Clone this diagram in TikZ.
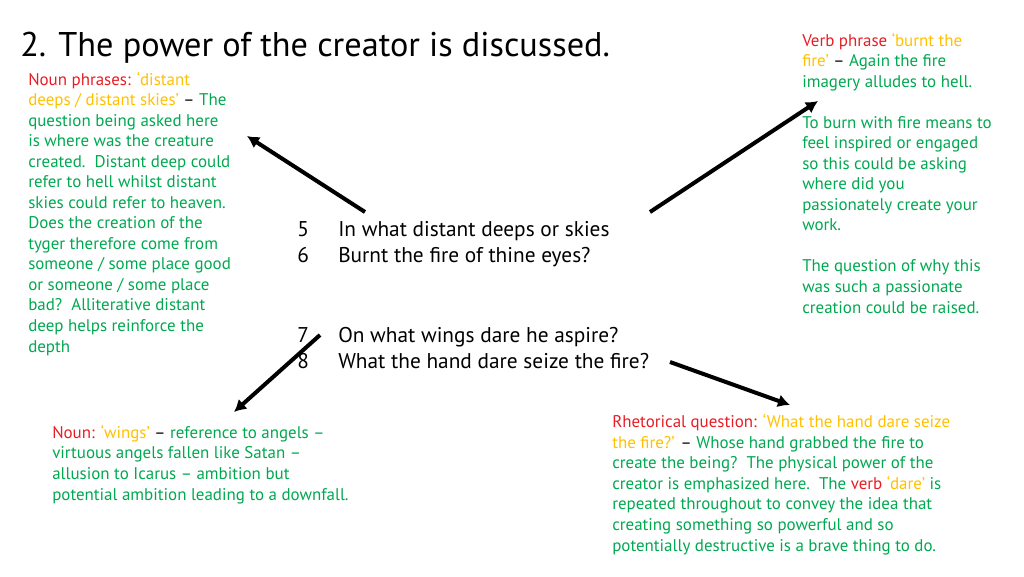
\documentclass[tikz,border=0pt]{standalone}
\usepackage{fontspec}
\setmainfont{PT Sans}
\usetikzlibrary{arrows.meta,positioning}
\definecolor{notered}{RGB}{232,28,36}
\definecolor{quoteyellow}{RGB}{255,192,0}
\definecolor{notegreen}{RGB}{0,168,80}
\newcommand{\termtxt}[1]{\textcolor{notered}{#1}}
\newcommand{\quotetxt}[1]{\textcolor{quoteyellow}{#1}}
\newcommand{\dashtxt}{\textcolor{black}{–}}

\begin{document}
\begin{tikzpicture}[x=0.75pt,y=-0.75pt,>=Latex,
  note/.style={anchor=base west,align=left,inner sep=0pt,text=notegreen,font=\fontsize{12.7}{15.4}\selectfont},
  poem/.style={anchor=base west,align=left,inner sep=0pt,font=\fontsize{16}{19.2}\selectfont},
  pointer/.style={->,line width=3pt,>={Latex[length=9pt,width=10pt]}}]
  \useasboundingbox (0,0) rectangle (1024,576);
  \node[anchor=base west,inner sep=0pt,font=\fontsize{25.7}{30}\selectfont] (title) at (20,56) {2. The power of the creator is discussed.};
  % poem lines (base = last line)
  \node[poem] (n56) at (297,262) {5\\6};
  \node[poem] (l56) at (338,262) {In what distant deeps or skies\\Burnt the fire of thine eyes?};
  \node[poem] (n78) at (297,368) {7\\8};
  \node[poem] (l78) at (338,368) {On what wings dare he aspire?\\What the hand dare seize the fire?};
  % notes
  \node[note] (nounphr) at (28,352) {\termtxt{Noun phrases:} \quotetxt{‘distant}\\
    \quotetxt{deeps / distant skies’} \dashtxt{} The\\
    question being asked here\\
    is where was the creature\\
    created.\ \ Distant deep could\\
    refer to hell whilst distant\\
    skies could refer to heaven.\\
    Does the creation of the\\
    tyger therefore come from\\
    someone / some place good\\
    or someone / some place\\
    bad?\ \ Alliterative distant\\
    deep helps reinforce the\\
    depth};
  \node[note] (verbphr) at (802,313) {\termtxt{Verb phrase} \quotetxt{‘burnt the}\\
    \quotetxt{fire’} \dashtxt{} Again the fire\\
    imagery alludes to hell.\\[15.4pt]
    To burn with fire means to\\
    feel inspired or engaged\\
    so this could be asking\\
    where did you\\
    passionately create your\\
    work.\\[15.4pt]
    The question of why this\\
    was such a passionate\\
    creation could be raised.};
  \node[note] (wings) at (52,500) {\termtxt{Noun:} \quotetxt{‘wings’} \dashtxt{} reference to angels –\\
    virtuous angels fallen like Satan –\\
    allusion to Icarus – ambition but\\
    potential ambition leading to a downfall.};
  \node[note] (rhetq) at (612,551) {\termtxt{Rhetorical question:} \quotetxt{‘What the hand dare seize}\\
    \quotetxt{the fire?’} \dashtxt{} Whose hand grabbed the fire to\\
    create the being?\ \ The physical power of the\\
    creator is emphasized here.\ \ The \termtxt{verb} \quotetxt{‘dare’} is\\
    repeated throughout to convey the idea that\\
    creating something so powerful and so\\
    potentially destructive is a brave thing to do.};
  % arrows
  \coordinate (fromdeeps) at (365,212);
  \coordinate (todeeps) at (247,136);
  \coordinate (fromfire) at (650,212);
  \coordinate (tofire) at (818,101);
  \coordinate (fromwings) at (320,335);
  \coordinate (towings) at (234,412);
  \coordinate (fromhand) at (670,362);
  \coordinate (tohand) at (790,405);
  \draw[pointer] (fromdeeps) -- (todeeps);
  \draw[pointer] (fromfire) -- (tofire);
  \draw[pointer] (fromwings) -- (towings);
  \draw[pointer] (fromhand) -- (tohand);
\end{tikzpicture}
\end{document}
